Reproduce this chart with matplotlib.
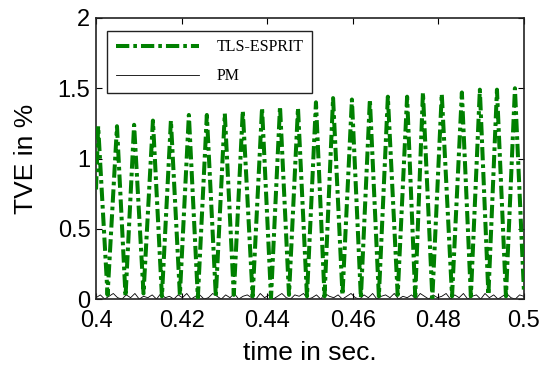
import numpy as np
import matplotlib
matplotlib.use("Agg")
import matplotlib.pyplot as plt

# TLS-ESPRIT: start value, then peaks / troughs
start_t = 0.4
start_val = 0.78
peak_t = [0.4005, 0.4049, 0.4089, 0.4133, 0.4175, 0.4217, 0.4259, 0.4301,
          0.4343, 0.4388, 0.4430, 0.4472, 0.4514, 0.4554, 0.4598, 0.4640,
          0.4682, 0.4727, 0.4764, 0.4808, 0.4855, 0.4897, 0.4937, 0.4979]
peak_val = [1.23, 1.23, 1.24, 1.27, 1.27, 1.31, 1.31, 1.32,
            1.34, 1.36, 1.37, 1.36, 1.40, 1.43, 1.42, 1.42,
            1.44, 1.44, 1.47, 1.46, 1.47, 1.49, 1.49, 1.50]
trough_t = [0.4027, 0.4069, 0.4111, 0.4154, 0.4196, 0.4238, 0.4280, 0.4322,
            0.4366, 0.4409, 0.4451, 0.4493, 0.4534, 0.4576, 0.4619, 0.4661,
            0.4705, 0.4746, 0.4786, 0.4832, 0.4876, 0.4917, 0.4958, 0.5000]
trough_val = [0.03, 0.02, 0.04, 0.02, 0.03, 0.01, 0.02, 0.03,
              0.02, 0.01, 0.03, 0.02, 0.02, 0.03, 0.01, 0.02,
              0.03, 0.02, 0.01, 0.02, 0.02, 0.03, 0.02, 0.06]

# PM: small noise close to zero
pm_val = [0.01, 0.03, 0.0, 0.02, 0.04, 0.01, 0.0, 0.03, 0.01, 0.04,
          0.0, 0.02, 0.01, 0.03, 0.0, 0.04, 0.01, 0.02, 0.0, 0.03,
          0.01, 0.04, 0.0, 0.02, 0.03, 0.0, 0.01, 0.04, 0.02, 0.0,
          0.03, 0.01, 0.04, 0.0, 0.02, 0.03, 0.01, 0.0, 0.04, 0.01,
          0.03, 0.0, 0.02, 0.04, 0.01, 0.0, 0.03, 0.02, 0.04, 0.0,
          0.01, 0.03, 0.0, 0.04, 0.02, 0.01, 0.03, 0.0, 0.02, 0.04,
          0.01, 0.0, 0.03, 0.01, 0.04, 0.0, 0.02, 0.03, 0.01, 0.04,
          0.0, 0.02, 0.01, 0.03, 0.0, 0.04, 0.02, 0.0, 0.03, 0.01,
          0.02, 0.04, 0.0, 0.03, 0.01, 0.04, 0.0, 0.02, 0.03, 0.0,
          0.04, 0.01, 0.03, 0.0, 0.02, 0.04, 0.01, 0.0, 0.03, 0.02]
pm_t = np.linspace(0.4, 0.5, len(pm_val))

xticks = [0.4, 0.42, 0.44, 0.46, 0.48, 0.5]
xlabels = ["0.4", "0.42", "0.44", "0.46", "0.48", "0.5"]
yticks = [0, 0.5, 1, 1.5, 2]
ylabels = ["0", "0.5", "1", "1.5", "2"]

# interleave peaks and troughs into one line
tls_t = [start_t]
tls_val = [start_val]
for a, b, c, d in zip(peak_t, peak_val, trough_t, trough_val):
    tls_t += [a, c]
    tls_val += [b, d]

plt.rcParams['font.family'] = ['Liberation Sans', 'DejaVu Sans']

fig = plt.figure(figsize=(5.55, 3.67), dpi=100)
ax = fig.add_axes([0.173, 0.185, 0.771, 0.766])

lw = 2.9
ax.plot(tls_t, tls_val, color='#008000', lw=lw,
        linestyle=(0, (3.3, 1.0, 0.9, 1.0)), label='TLS-ESPRIT', zorder=3)
ax.plot(pm_t, pm_val, color='k', lw=0.6, label='PM', zorder=2)

ax.set_xlim(0.4, 0.5)
ax.set_ylim(0, 2)
ax.set_xticks(xticks)
ax.set_xticklabels(xlabels)
ax.set_yticks(yticks)
ax.set_yticklabels(ylabels)
ax.tick_params(direction='in', length=4, width=0.8, top=True, right=True,
               labelsize=17)
ax.tick_params(axis='x', pad=8)
ax.tick_params(axis='y', pad=4)
for s in ax.spines.values():
    s.set_linewidth(1.2)
    s.set_color('#222222')

ax.set_xlabel('time in sec.', fontsize=19, labelpad=6)
ax.set_ylabel('TVE in %', fontsize=19, labelpad=14)

leg = ax.legend(loc='upper left', bbox_to_anchor=(0.026, 0.955),
                borderaxespad=0, prop={'family': 'Liberation Serif', 'size': 11.5},
                handlelength=5.2, handletextpad=1.1, borderpad=0.55,
                labelspacing=0.8, fancybox=False, framealpha=1,
                edgecolor='#222222')
leg.get_frame().set_linewidth(1.0)

fig.savefig('out.png', dpi=100)
